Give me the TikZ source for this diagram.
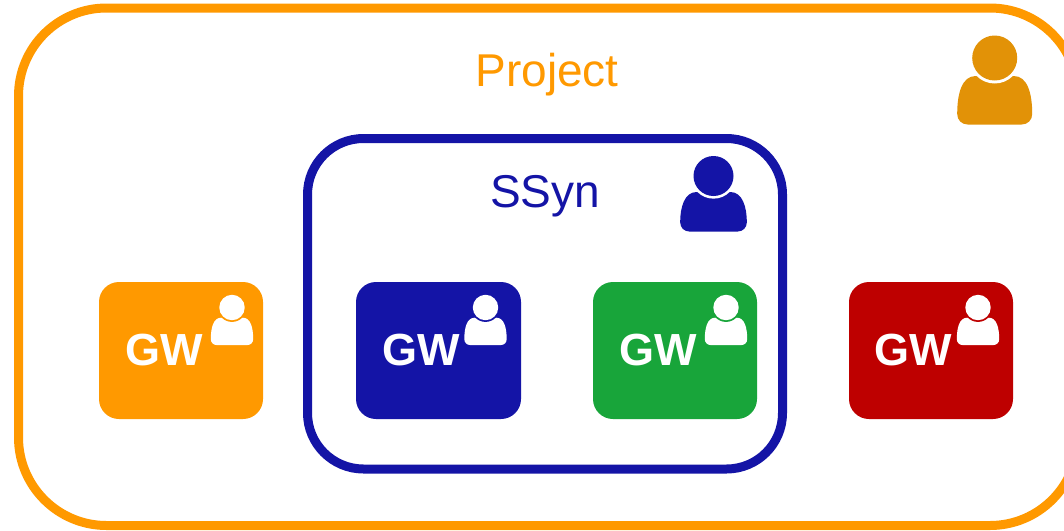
\documentclass[tikz,border=0pt]{standalone}
\usepackage{fontspec}
\setmainfont{Liberation Sans}
\definecolor{projorange}{HTML}{FF9900}
\definecolor{persorange}{HTML}{E29207}
\definecolor{ssynblue}{HTML}{1414A6}
\definecolor{gwgreen}{HTML}{18A53A}
\definecolor{gwred}{HTML}{BE0000}
\tikzset{
  projframe/.style={draw=projorange,line width=9pt,rounded corners=88pt},
  ssynframe/.style={draw=ssynblue,line width=9pt,rounded corners=56pt},
  gwbox/.style={fill=#1,rounded corners=20pt},
  gwlabel/.style={text=white,font=\bfseries\fontsize{45}{45}\selectfont,anchor=base,inner sep=0pt},
  titlelabel/.style={text=#1,font=\fontsize{46}{46}\selectfont,anchor=base,inner sep=0pt},
  pics/person/.style args={#1/#2/#3}{code={
    \fill[#1] (-27,#3) -- (27,#3)
       .. controls (33,#3) and (37.5,#3-4.5) .. (37.5,#3-10.5)
       .. controls (37.5,36) and (33,18) .. (19,18)
       -- (-19,18)
       .. controls (-33,18) and (-37.5,36) .. (-37.5,#3-10.5)
       .. controls (-37.5,#3-4.5) and (-33,#3) .. (-27,#3) -- cycle;
    \fill[#2] (0,0) circle[radius=25.5];
    \fill[#1] (0,0) circle[radius=22.5];
  }}
}
\begin{document}
\begin{tikzpicture}[x=1pt,y=-1pt]
\clip (0,0) rectangle (1064,530);
\fill[white] (0,0) rectangle (1064,530);
\draw[projframe] (18.5,8) rectangle (1078,525.5);
\draw[ssynframe] (307.5,138.5) rectangle (782.5,469);
\fill[gwbox=projorange] (99,282) rectangle (263,419);
\fill[gwbox=ssynblue] (356,282) rectangle (521,419);
\fill[gwbox=gwgreen] (593,282) rectangle (757,419);
\fill[gwbox=gwred] (849,282) rectangle (1013,419);
\node[titlelabel=projorange] (project) at (547,86) {Project};
\node[titlelabel=ssynblue] (ssyn) at (545,207) {SSyn};
\node[gwlabel] (gw1) at (164,365.5) {GW};
\node[gwlabel] (gw2) at (421,365.5) {GW};
\node[gwlabel] (gw3) at (658,365.5) {GW};
\node[gwlabel] (gw4) at (913.5,365.5) {GW};
\pic[shift={(994.7,58)},scale=1] {person={persorange/white/66.5}};
\pic[shift={(713.5,176)},scale=.889] {person={ssynblue/white/62.5}};
\pic[shift={(232,307.5)},scale=.565] {person={white/projorange/66.5}};
\pic[shift={(485.5,307.5)},scale=.565] {person={white/ssynblue/66.5}};
\pic[shift={(726,307.5)},scale=.565] {person={white/gwgreen/66.5}};
\pic[shift={(978,307.5)},scale=.565] {person={white/gwred/66.5}};
\end{tikzpicture}
\end{document}
